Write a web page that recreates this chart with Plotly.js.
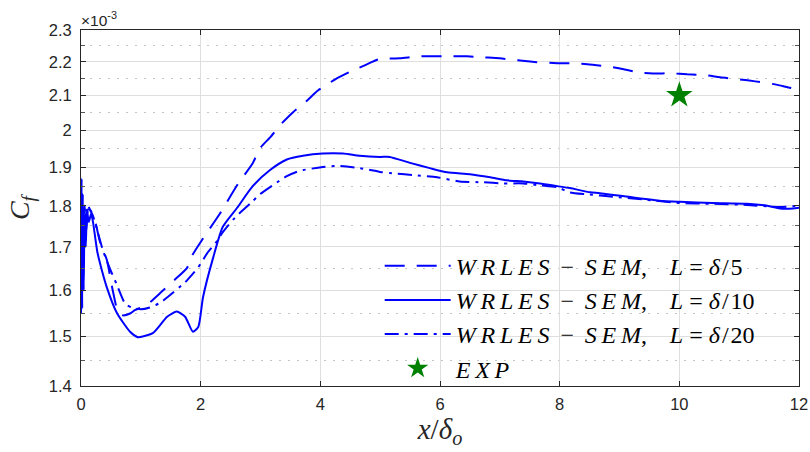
<!DOCTYPE html>
<html>
<head>
<meta charset="utf-8">
<script src="https://cdn.plot.ly/plotly-3.0.1.min.js"></script>
<style>html,body{margin:0;padding:0;background:#fff;}#chart{width:810px;height:452px;}</style>
</head>
<body>
<div id="chart"></div>
<script>
// Cf values are in units of 1e-3 (axis shows x10^-3)
const xDelta5 = [0.0, 0.03, 0.06, 0.1, 0.15, 0.23, 0.32, 0.43, 0.53, 0.62, 0.70, 0.82, 0.90, 1.10, 1.35, 1.57, 1.77, 1.86, 2.04, 2.32, 2.62, 2.87, 2.99, 3.16, 3.32, 3.54, 3.78, 3.96, 4.25, 4.50, 4.75, 4.98, 5.33, 5.67, 6.12, 6.45, 6.72, 7.00, 7.29, 7.62, 7.96, 8.17, 8.46, 8.76, 9.01, 9.31, 9.56, 9.88, 10.13, 10.46, 10.68, 11.01, 11.27, 11.60, 11.82, 12.0];
const cfDelta5 = [1.72, 1.80, 1.74, 1.79, 1.79, 1.765, 1.71, 1.67, 1.60, 1.552, 1.545, 1.549, 1.556, 1.568, 1.597, 1.624, 1.65, 1.68, 1.72, 1.78, 1.855, 1.91, 1.95, 1.98, 2.013, 2.05, 2.085, 2.114, 2.147, 2.17, 2.19, 2.208, 2.211, 2.217, 2.217, 2.217, 2.214, 2.211, 2.205, 2.199, 2.196, 2.196, 2.193, 2.187, 2.18, 2.168, 2.165, 2.165, 2.162, 2.159, 2.153, 2.147, 2.141, 2.132, 2.123, 2.116];

const xDelta10 = [0.0, 0.01, 0.02, 0.03, 0.045, 0.06, 0.08, 0.1, 0.13, 0.17, 0.2, 0.27, 0.32, 0.43, 0.60, 0.82, 0.94, 0.99, 1.20, 1.44, 1.60, 1.74, 1.87, 1.96, 2.04, 2.21, 2.37, 2.61, 2.87, 3.16, 3.44, 3.71, 4.04, 4.38, 4.66, 5.00, 5.16, 5.50, 5.83, 6.12, 6.50, 6.84, 7.12, 7.39, 7.67, 7.96, 8.17, 8.51, 8.67, 9.18, 9.73, 10.01, 10.56, 11.13, 11.47, 11.68, 11.90, 12.0];
const cfDelta10 = [1.55, 1.87, 1.56, 1.83, 1.60, 1.78, 1.70, 1.79, 1.76, 1.78, 1.76, 1.69, 1.66, 1.607, 1.55, 1.51, 1.499, 1.499, 1.507, 1.542, 1.553, 1.542, 1.51, 1.52, 1.585, 1.675, 1.748, 1.795, 1.85, 1.892, 1.92, 1.93, 1.936, 1.936, 1.93, 1.927, 1.927, 1.911, 1.897, 1.886, 1.881, 1.873, 1.865, 1.862, 1.857, 1.85, 1.845, 1.834, 1.832, 1.822, 1.812, 1.81, 1.807, 1.805, 1.80, 1.793, 1.793, 1.795];

const xDelta20 = [0.0, 0.02, 0.04, 0.06, 0.09, 0.12, 0.15, 0.2, 0.37, 0.48, 0.60, 0.74, 0.85, 1.0, 1.15, 1.32, 1.45, 1.74, 1.86, 1.96, 2.12, 2.27, 2.37, 2.57, 2.86, 2.99, 3.28, 3.44, 3.66, 4.04, 4.28, 4.66, 5.0, 5.16, 5.55, 5.95, 6.33, 6.72, 7.05, 7.39, 7.67, 7.96, 8.17, 8.46, 8.89, 9.46, 10.01, 10.56, 11.13, 11.68, 12.0];
const cfDelta20 = [1.70, 1.78, 1.68, 1.80, 1.74, 1.80, 1.79, 1.775, 1.69, 1.65, 1.612, 1.57, 1.562, 1.558, 1.562, 1.572, 1.585, 1.618, 1.636, 1.652, 1.687, 1.713, 1.735, 1.77, 1.81, 1.829, 1.86, 1.876, 1.89, 1.90, 1.903, 1.897, 1.887, 1.884, 1.879, 1.873, 1.862, 1.86, 1.857, 1.857, 1.852, 1.847, 1.834, 1.829, 1.823, 1.815, 1.807, 1.805, 1.802, 1.797, 1.80];

const xExp = [10];
const cfExp = [2.1];

const yTicks = [1.4, 1.5, 1.6, 1.7, 1.8, 1.9, 2.0, 2.1, 2.2, 2.3];
const yTickText = ['1.4', '1.5', '1.6', '1.7', '1.8', '1.9', '2', '2.1', '2.2', '2.3'];
const yMinorTicks = [1.45, 1.55, 1.65, 1.75, 1.85, 1.95, 2.05, 2.15, 2.25];
const xTicks = [0, 2, 4, 6, 8, 10, 12];

const H = '\u200a', T = '\u2009', N = '\u00a0';
const base = '<i>W' + T + 'R' + T + 'L' + T + 'E' + T + 'S</i>' + N + T + '−' + N + T + '<i>S' + T + 'E' + T + 'M</i>,' + N + N + N + T + '<i>L</i>' + N + '=' + N + '<i>δ</i>' + H + '/' + H;
const names = [base + '5', base + '10', base + '20', '<i>E' + T + 'X' + T + 'P</i>'];

const blue = '#0000ff';
const axisColor = '#262626';
const tickFont = {family: 'Liberation Sans, Arial, sans-serif', size: 16.5, color: axisColor};
const serif = 'Liberation Serif, Times New Roman, serif';

const traces = [
  {x: xDelta5, y: cfDelta5, mode: 'lines', name: names[0],
   line: {color: blue, width: 2, dash: '20px,12px', shape: 'spline', smoothing: 0.6}},
  {x: xDelta10, y: cfDelta10, mode: 'lines', name: names[1],
   line: {color: blue, width: 2, shape: 'spline', smoothing: 0.6}},
  {x: xDelta20, y: cfDelta20, mode: 'lines', name: names[2],
   line: {color: blue, width: 2, dash: '14px,6px,3px,6px', shape: 'spline', smoothing: 0.6}},
  {x: xExp, y: cfExp, mode: 'markers', name: names[3],
   marker: {symbol: 'star', size: 20, color: '#008000', line: {width: 0}}}
];

const layout = {
  width: 810, height: 452,
  margin: {l: 81, r: 11, t: 30, b: 66},
  paper_bgcolor: '#ffffff', plot_bgcolor: '#ffffff',
  showlegend: true,
  legend: {x: 0.416, y: 0.40, xanchor: 'left', yanchor: 'top', bgcolor: 'rgba(0,0,0,0)',
    borderwidth: 0, font: {family: serif, size: 24, color: '#000'}, itemwidth: 66},
  xaxis: {
    range: [0, 12], tickmode: 'array', tickvals: xTicks, ticks: 'inside', ticklen: 5,
    tickcolor: axisColor, showline: true, linecolor: axisColor, linewidth: 1, mirror: 'ticks',
    showgrid: true, gridcolor: '#dedede', gridwidth: 1, zeroline: false, tickfont: tickFont, ticklabelstandoff: 3,
    title: {text: '<i>x</i>/<i>δ</i><sub><i>o</i></sub>', font: {family: serif, size: 29, color: axisColor}, standoff: 4}
  },
  yaxis: {
    type: 'log', range: [Math.log10(1.4), Math.log10(2.3)], tickmode: 'array', tickvals: yTicks, ticktext: yTickText,
    ticks: 'inside', ticklen: 5, tickcolor: axisColor, showline: true, linecolor: axisColor, linewidth: 1,
    mirror: 'ticks', showgrid: true, gridcolor: '#dedede', gridwidth: 1, zeroline: false, tickfont: tickFont,
    ticklabelstandoff: 5,
    minor: {tickmode: 'array', tickvals: yMinorTicks, ticks: 'inside', ticklen: 4, tickcolor: '#555',
      showgrid: true, gridcolor: '#c4c4c4', griddash: '2px,7px', gridwidth: 1},
    title: {text: '<i>C</i><sub><i>f</i></sub>', font: {family: serif, size: 28, color: axisColor}, standoff: 10}
  },
  annotations: [{xref: 'paper', yref: 'paper', x: 0, y: 1, xanchor: 'left', yanchor: 'bottom', showarrow: false,
    text: '×10<sup>-3</sup>', font: {family: 'Liberation Sans, Arial, sans-serif', size: 15.5, color: axisColor}, xshift: -2, yshift: -1}]
};

Plotly.newPlot('chart', traces, layout, {staticPlot: true, displayModeBar: false});
</script>
</body>
</html>
